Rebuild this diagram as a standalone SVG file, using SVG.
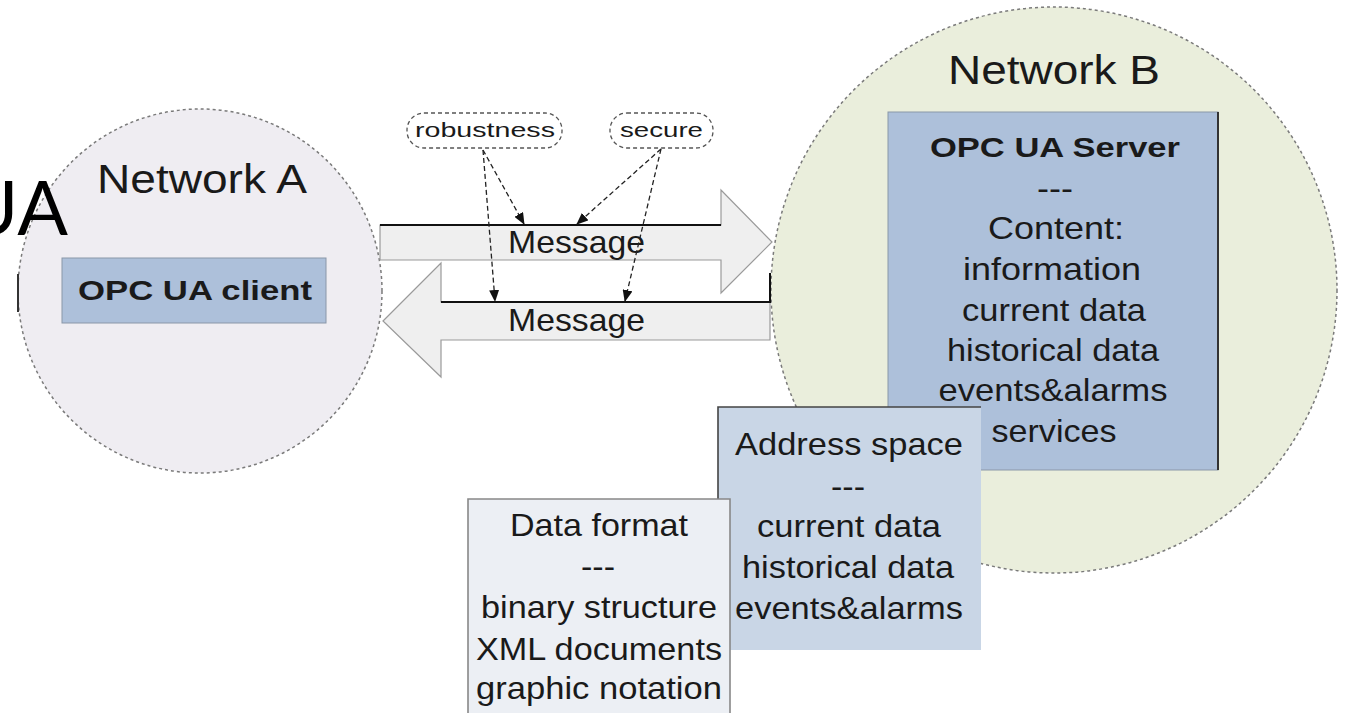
<svg xmlns="http://www.w3.org/2000/svg" width="1352" height="713" viewBox="0 0 1352 713">
  <defs>
    <style>
      text { font-family: "Liberation Sans", Arial, sans-serif; fill: #1a1a1a; }
      .net { font-size: 40px; }
      .bold { font-weight: bold; }
      .body { font-size: 32px; text-anchor: middle; }
      .msg { font-size: 32px; }
      .tag { font-size: 21px; }
      .zone { stroke: #7a7a7a; stroke-width: 1.5; stroke-dasharray: 3 3; }
      .pill { fill: #ffffff; stroke: #555; stroke-width: 1.3; stroke-dasharray: 4 3; }
      .link { fill: none; stroke: #222; stroke-width: 1.3; stroke-dasharray: 5 3; }
      .band { fill: #efefef; stroke: #9a9a9a; stroke-width: 1.2; }
      .edge { stroke: #111; stroke-width: 2; fill: none; }
    </style>
    <marker id="tip" viewBox="0 0 12 10" refX="11" refY="5" markerWidth="12" markerHeight="10" markerUnits="userSpaceOnUse" orient="auto">
      <path d="M0,0 L12,5 L0,10 Z" fill="#111"/>
    </marker>
  </defs>

  <rect width="1352" height="713" fill="#ffffff"/>

  <!-- Network A -->
  <g id="network-a">
    <circle cx="200" cy="291" r="182" fill="#efedf2" class="zone"/>
    <line x1="18" y1="274" x2="18" y2="312" stroke="#333" stroke-width="2"/>
    <text class="net" x="97" y="193" textLength="210" lengthAdjust="spacingAndGlyphs">Network A</text>
  </g>

  <!-- title fragment at the left margin, drawn over the zone -->
  <text x="68" y="235" text-anchor="end" style="font-family: Lato, 'Open Sans', sans-serif; font-size: 75px; fill: #000;">UA</text>

  <!-- Network B -->
  <g id="network-b">
    <circle cx="1054" cy="290" r="283" fill="#eaeedc" class="zone"/>
    <text class="net" x="948" y="84" textLength="212" lengthAdjust="spacingAndGlyphs">Network B</text>
  </g>

  <!-- OPC UA client -->
  <g id="client">
    <rect x="62" y="258" width="264" height="65" fill="#adc0da" stroke="#8a97a8" stroke-width="1"/>
    <text class="bold" x="78" y="300" style="font-size: 28px;" textLength="234" lengthAdjust="spacingAndGlyphs">OPC UA client</text>
  </g>

  <!-- OPC UA server -->
  <g id="server">
    <rect x="888" y="112" width="330" height="358" fill="#adc0da" stroke="#8a97a8" stroke-width="1"/>
    <line x1="1218" y1="112" x2="1218" y2="470" stroke="#333" stroke-width="2"/>
    <text class="bold" x="1055" y="157" text-anchor="middle" style="font-size: 28px;" textLength="250" lengthAdjust="spacingAndGlyphs">OPC UA Server</text>
    <text class="body" x="1055" y="199" textLength="36" lengthAdjust="spacingAndGlyphs">---</text>
    <text class="body" x="1056" y="239" textLength="136" lengthAdjust="spacingAndGlyphs">Content:</text>
    <text class="body" x="1052" y="280" textLength="178" lengthAdjust="spacingAndGlyphs">information</text>
    <text class="body" x="1054" y="321" textLength="184" lengthAdjust="spacingAndGlyphs">current data</text>
    <text class="body" x="1053" y="361" textLength="212" lengthAdjust="spacingAndGlyphs">historical data</text>
    <text class="body" x="1053" y="401" textLength="229" lengthAdjust="spacingAndGlyphs">events&amp;alarms</text>
    <text class="body" x="1054" y="442" textLength="125" lengthAdjust="spacingAndGlyphs">services</text>
  </g>

  <!-- Address space -->
  <g id="address-space">
    <rect x="718" y="407" width="263" height="243" fill="#c9d6e6"/>
    <polyline points="718,650 718,407 981,407" fill="none" stroke="#444" stroke-width="1.6"/>
    <text class="body" x="849" y="455" textLength="228" lengthAdjust="spacingAndGlyphs">Address space</text>
    <text class="body" x="848" y="497" textLength="34" lengthAdjust="spacingAndGlyphs">---</text>
    <text class="body" x="849" y="537" textLength="184" lengthAdjust="spacingAndGlyphs">current data</text>
    <text class="body" x="848" y="578" textLength="212" lengthAdjust="spacingAndGlyphs">historical data</text>
    <text class="body" x="849" y="619" textLength="228" lengthAdjust="spacingAndGlyphs">events&amp;alarms</text>
  </g>

  <!-- Data format -->
  <g id="data-format">
    <rect x="468" y="499" width="262" height="220" fill="#eceff4"/>
    <polyline points="468,713 468,499 730,499 730,713" fill="none" stroke="#888" stroke-width="1.6"/>
    <text class="body" x="599" y="536" textLength="178" lengthAdjust="spacingAndGlyphs">Data format</text>
    <text class="body" x="598" y="577" textLength="34" lengthAdjust="spacingAndGlyphs">---</text>
    <text class="body" x="599" y="618" textLength="236" lengthAdjust="spacingAndGlyphs">binary structure</text>
    <text class="body" x="599" y="660" textLength="246" lengthAdjust="spacingAndGlyphs">XML documents</text>
    <text class="body" x="599" y="699" textLength="246" lengthAdjust="spacingAndGlyphs">graphic notation</text>
  </g>

  <!-- Message flows and their annotations -->
  <g id="connectors">
    <!-- client to server -->
    <polygon class="band" points="380,225 721,225 721,190 772,242 721,293 721,260 380,260"/>
    <line class="edge" x1="380" y1="225" x2="721" y2="225"/>
    <text class="msg" x="508" y="253" textLength="137" lengthAdjust="spacingAndGlyphs">Message</text>

    <!-- server to client -->
    <polygon class="band" points="383,321 441,263 441,302 770,302 770,340 441,340 441,377"/>
    <polyline class="edge" points="441,302 770,302 770,273"/>
    <text class="msg" x="508" y="331" textLength="137" lengthAdjust="spacingAndGlyphs">Message</text>

    <!-- quality tags -->
    <rect class="pill" x="407" y="113" width="155" height="35" rx="17"/>
    <text class="tag" x="415" y="137" textLength="140" lengthAdjust="spacingAndGlyphs">robustness</text>
    <rect class="pill" x="610" y="113" width="103" height="35" rx="17"/>
    <text class="tag" x="620" y="137" textLength="83" lengthAdjust="spacingAndGlyphs">secure</text>

    <line class="link" x1="483" y1="150" x2="524" y2="224" marker-end="url(#tip)"/>
    <line class="link" x1="483" y1="150" x2="495" y2="301" marker-end="url(#tip)"/>
    <line class="link" x1="661" y1="149" x2="577" y2="224" marker-end="url(#tip)"/>
    <line class="link" x1="661" y1="149" x2="625" y2="301" marker-end="url(#tip)"/>
  </g>
</svg>
